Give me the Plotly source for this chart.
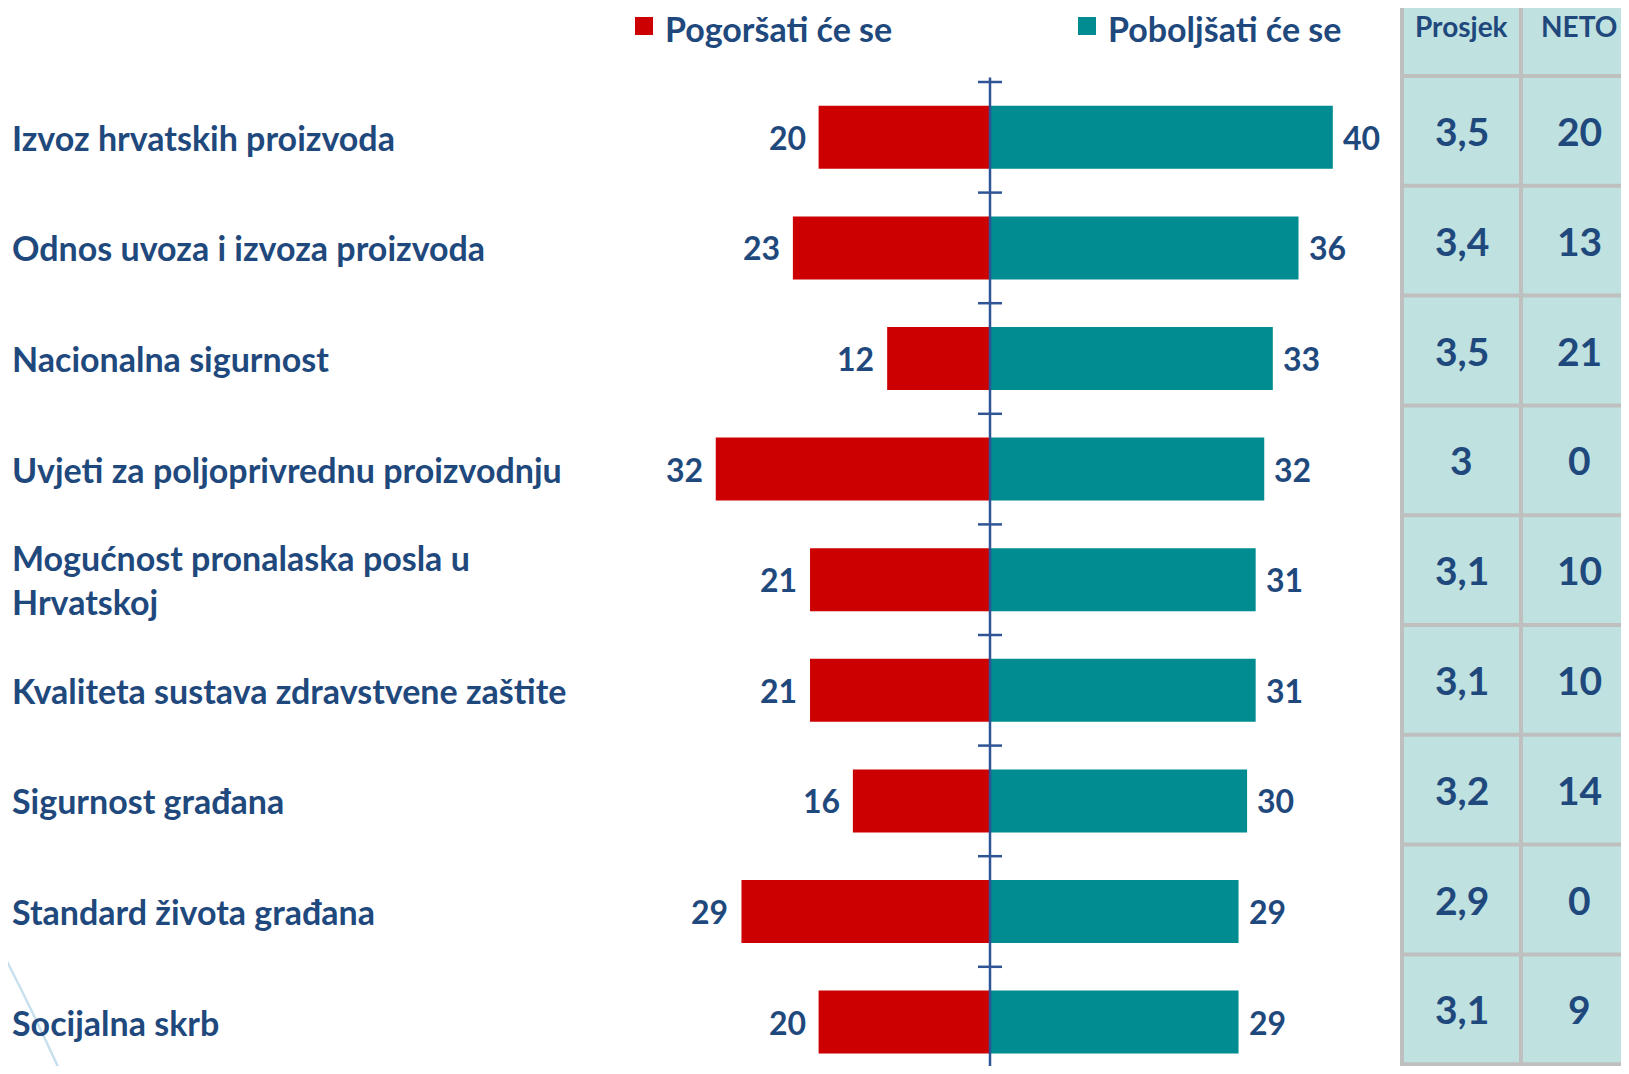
import plotly.graph_objects as go

# podaci
kategorije = [
    "Izvoz hrvatskih proizvoda",
    "Odnos uvoza i izvoza proizvoda",
    "Nacionalna sigurnost",
    "Uvjeti za poljoprivrednu proizvodnju",
    "Mogućnost pronalaska posla u<br>Hrvatskoj",
    "Kvaliteta sustava zdravstvene zaštite",
    "Sigurnost građana",
    "Standard života građana",
    "Socijalna skrb",
]
pogorsati = [20, 23, 12, 32, 21, 21, 16, 29, 20]
poboljsati = [40, 36, 33, 32, 31, 31, 30, 29, 29]
prosjek = ["3,5", "3,4", "3,5", "3", "3,1", "3,1", "3,2", "2,9", "3,1"]
neto = ["20", "13", "21", "0", "10", "10", "14", "0", "9"]
naziv_pog = "Pogoršati će se"
naziv_pob = "Poboljšati će se"
stupci = ["Prosjek", "NETO"]

OFF = 8                      # stranica ima rub od 8 px
W, H = 1629 - 2 * OFF, 1074 - 2 * OFF
FONT = "Lato"
PLAVA = "#1F497D"
CRVENA = "#CC0000"
TIRKIZ = "#008C90"
OS = "#2F5597"

# geometrija (pikseli slike)
X0, PXU = 990 - OFF, 8.57    # nula osi i piksela po jedinici
ROW0, ROWH = 137.3 - OFF, 110.6

def py(p):
    return 1 - (p - OFF) / H

def px(p):
    return (p - OFF) / W

ids = list(range(len(kategorije)))

fig = go.Figure()
fig.add_trace(go.Bar(
    y=ids, x=[-v for v in pogorsati], orientation="h",
    marker=dict(color=CRVENA, line_width=0), name=naziv_pog, width=0.57,
))
fig.add_trace(go.Bar(
    y=ids, x=poboljsati, orientation="h",
    marker=dict(color=TIRKIZ, line_width=0), name=naziv_pob, width=0.57,
))

shapes = []
ann = []
num_font = dict(family=FONT, size=32, color=PLAVA, weight="bold")

# vrijednosti uz stupce
for i in ids:
    ann.append(dict(x=-pogorsati[i], y=i, xref="x", yref="y", text=str(pogorsati[i]),
                    showarrow=False, xanchor="right", yanchor="middle", xshift=-11,
                    font=num_font))
    ann.append(dict(x=poboljsati[i], y=i, xref="x", yref="y", text=str(poboljsati[i]),
                    showarrow=False, xanchor="left", yanchor="middle", xshift=8,
                    font=num_font))

# os i crtice
shapes.append(dict(type="line", xref="x", yref="y", x0=0, x1=0, y0=-0.54, y1=9,
                   line=dict(color=OS, width=2.5)))
for i in range(len(kategorije) + 1):
    shapes.append(dict(type="line", xref="paper", yref="y",
                       x0=px(978), x1=px(1002), y0=i - 0.5, y1=i - 0.5,
                       line=dict(color=OS, width=2.5)))

# nazivi kategorija
for i, k in enumerate(kategorije):
    ann.append(dict(x=px(10), xref="paper", y=i, yref="y", text=k, showarrow=False,
                    xanchor="left", yanchor="middle", align="left",
                    font=dict(family=FONT, size=34, color=PLAVA, weight="bold")))

# legenda
for boja, naziv, xs in [(CRVENA, naziv_pog, 635), (TIRKIZ, naziv_pob, 1078)]:
    shapes.append(dict(type="rect", xref="paper", yref="paper",
                       x0=px(xs), x1=px(xs + 18), y0=py(17), y1=py(35),
                       fillcolor=boja, line_width=0))
    ann.append(dict(x=px(xs + 29), xref="paper", y=py(29), yref="paper", showarrow=False,
                    xanchor="left", yanchor="middle", text=naziv, borderpad=0,
                    font=dict(family=FONT, size=34, color=PLAVA, weight="bold")))

# tablica
T_L, T_M, T_R = 1402, 1521, 1660
T_HEAD, T_ROW = 76, 109.8
T_BOT = T_HEAD + T_ROW * len(kategorije)
SIVA = "#BFBFBF"
C1, C2 = (T_L + T_M) / 2, (T_M + 1637) / 2
shapes.append(dict(type="rect", xref="paper", yref="paper", x0=px(T_L), x1=px(T_R),
                   y0=py(0), y1=py(T_BOT), fillcolor="#BFE1E0", line_width=0, layer="below"))
for xv in (T_L, T_M):
    shapes.append(dict(type="line", xref="paper", yref="paper", x0=px(xv), x1=px(xv),
                       y0=py(0), y1=py(T_BOT + 2), line=dict(color=SIVA, width=4)))
for j in range(len(kategorije) + 1):
    yy = T_HEAD + T_ROW * j
    shapes.append(dict(type="line", xref="paper", yref="paper", x0=px(T_L), x1=px(T_R),
                       y0=py(yy), y1=py(yy), line=dict(color=SIVA, width=4)))

for naslov, xc in zip(stupci, [C1, C2]):
    ann.append(dict(x=px(xc), xref="paper", y=py(26), yref="paper", text=naslov,
                    showarrow=False, xanchor="center", yanchor="middle", borderpad=0,
                    font=dict(family=FONT, size=28, color=PLAVA, weight="bold")))
for j in ids:
    yc = T_HEAD + T_ROW * (j + 0.5)
    for val, xc in zip([prosjek[j], neto[j]], [C1, C2]):
        ann.append(dict(x=px(xc), xref="paper", y=py(yc), yref="paper", text=val,
                        showarrow=False, xanchor="center", yanchor="middle",
                        font=dict(family=FONT, size=39, color=PLAVA, weight="bold")))

# ukrasna linija dolje lijevo
shapes.append(dict(type="path", xref="paper", yref="paper",
                   path=f"M {px(0)},{py(948)} Q {px(30)},{py(1005)} {px(64)},{py(1080)}",
                   line=dict(color="#C8E0EE", width=2.5)))

fig.update_layout(
    width=W, height=H,
    margin=dict(l=0, r=0, t=0, b=0),
    paper_bgcolor="white", plot_bgcolor="white",
    barmode="overlay", showlegend=False,
    xaxis=dict(range=[-X0 / PXU, (W - X0) / PXU], visible=False, fixedrange=True),
    yaxis=dict(range=[(H - ROW0) / ROWH, -ROW0 / ROWH], visible=False, fixedrange=True),
    shapes=shapes, annotations=ann,
    font=dict(family=FONT, color=PLAVA),
)

fig.write_html("out.html")
